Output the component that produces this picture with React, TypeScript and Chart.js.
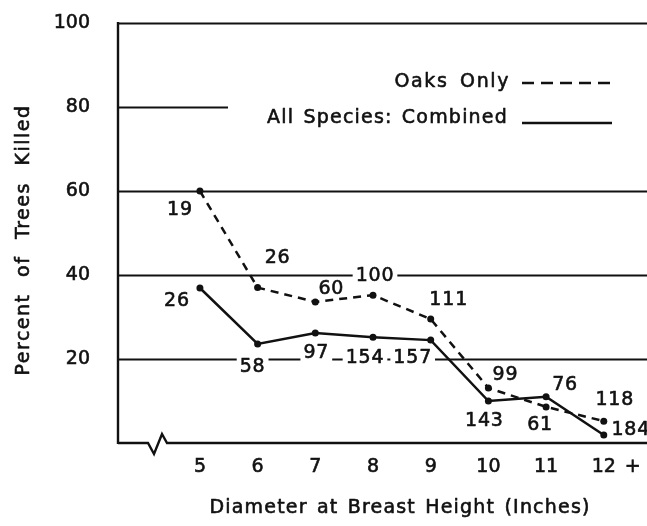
import React, { useEffect, useRef } from "react";
import { Chart, registerables } from "chart.js";

Chart.register(...registerables);

// ---------------- data ----------------
const diameterInches = [5, 6, 7, 8, 9, 10, 11, 12];
const oaksOnlyPercent = [60, 37, 33.6, 35.2, 29.5, 13.1, 8.6, 5.2];
const allSpeciesPercent = [36.9, 23.6, 26.2, 25.2, 24.5, 10, 11, 1.9];
const oaksOnlyCounts = [19, 26, 60, 100, 111, 99, 61, 118];
const allSpeciesCounts = [26, 58, 97, 154, 157, 143, 76, 184];
const yTickValues = [20, 40, 60, 80, 100];
const xTickValues = [5, 6, 7, 8, 9, 10, 11, 12];
const openEndTickValue = 12.5;
const openEndTickLabel = "+";
const seriesLabels = ["Oaks Only", "All Species: Combined"];
const xAxisTitle = "Diameter at Breast Height (Inches)";
const yAxisTitle = "Percent of Trees Killed";

// ---------------- styles ----------------
const INK = "#111111";
const FONT = "'DejaVu Sans', sans-serif";
const TEXT_STROKE = 0.6;
const oaksLabelOffsets = [[-20, 19], [20, -30], [16, -13], [2, -19], [18, -19], [17, -13], [-6, 18], [11, -21]];
const allLabelOffsets = [[-23, 13], [-5, 23], [1, 20], [-8, 21], [-18, 18], [-4, 20], [19, -12], [27, -5]];

function setFont(ctx: CanvasRenderingContext2D, size: number, ls = 0, ws = 0) {
  ctx.font = `${size}px ${FONT}`;
  (ctx as any).letterSpacing = `${ls}px`;
  (ctx as any).wordSpacing = `${ws}px`;
}

function drawText(
  ctx: CanvasRenderingContext2D,
  s: string,
  x: number,
  y: number,
  size: number,
  align: CanvasTextAlign,
  baseline: CanvasTextBaseline,
  ls = 0,
  ws = 0
) {
  ctx.save();
  setFont(ctx, size, ls, ws);
  ctx.fillStyle = INK;
  ctx.strokeStyle = INK;
  ctx.lineWidth = TEXT_STROKE;
  ctx.lineJoin = "round";
  ctx.textAlign = align;
  ctx.textBaseline = baseline;
  ctx.fillText(s, x, y);
  ctx.strokeText(s, x, y);
  ctx.restore();
}

const LABEL_SIZE = 19;
const LABEL_LS = 0.8;

function labelItems(chart: any) {
  const items: { text: string; x: number; y: number }[] = [];
  const sets = [
    { counts: oaksOnlyCounts, offsets: oaksLabelOffsets, meta: chart.getDatasetMeta(0) },
    { counts: allSpeciesCounts, offsets: allLabelOffsets, meta: chart.getDatasetMeta(1) },
  ];
  sets.forEach((s) => {
    s.counts.forEach((c, j) => {
      const pt = s.meta.data[j];
      items.push({ text: String(c), x: pt.x + s.offsets[j][0], y: pt.y + s.offsets[j][1] });
    });
  });
  return items;
}

const decorPlugin = {
  id: "decor",
  beforeDatasetsDraw(chart: any) {
    const { ctx, chartArea } = chart;
    const { left, top } = chartArea;
    const right = chart.width;
    const yScale = chart.scales.y;
    ctx.save();
    ctx.strokeStyle = INK;
    ctx.lineWidth = 2;
    ctx.lineCap = "butt";
    yTickValues.forEach((v) => {
      const py = Math.round(yScale.getPixelForValue(v)) + 0.5;
      ctx.beginPath();
      ctx.moveTo(left, py);
      ctx.lineTo(right, py);
      ctx.stroke();
    });
    // baseline with axis break
    const p0 = Math.round(yScale.getPixelForValue(0));
    ctx.lineWidth = 2.4;
    ctx.beginPath();
    ctx.moveTo(left, p0);
    ctx.lineTo(left + 30, p0);
    ctx.lineTo(left + 36, p0 + 11);
    ctx.lineTo(left + 44, p0 - 9);
    ctx.lineTo(left + 49, p0);
    ctx.lineTo(right, p0);
    ctx.stroke();
    // y axis line
    ctx.beginPath();
    ctx.moveTo(left, top - 1);
    ctx.lineTo(left, p0 + 1);
    ctx.stroke();

    // white boxes behind count labels
    ctx.fillStyle = "#ffffff";
    setFont(ctx, LABEL_SIZE, LABEL_LS);
    labelItems(chart).forEach((it) => {
      const w = ctx.measureText(it.text).width;
      ctx.fillRect(it.x - w / 2 - 3, it.y - 9, w + 6, 18);
    });
    // legend area
    ctx.fillRect(228, 62, chart.width - 228, 72);
    ctx.restore();
  },
  afterDatasetsDraw(chart: any) {
    const { ctx } = chart;
    labelItems(chart).forEach((it) => {
      drawText(ctx, it.text, it.x, it.y, LABEL_SIZE, "center", "middle", LABEL_LS);
    });
    // legend
    const ds = chart.data.datasets;
    drawText(ctx, ds[0].label, 510, 87, 19, "right", "alphabetic", 1.6, 4);
    drawText(ctx, ds[1].label, 508, 123, 19, "right", "alphabetic", 1.2, 2);
    ctx.save();
    ctx.strokeStyle = INK;
    ctx.lineWidth = 2.5;
    ctx.setLineDash([12, 7]);
    ctx.beginPath();
    ctx.moveTo(522, 83);
    ctx.lineTo(614, 83);
    ctx.stroke();
    ctx.setLineDash([]);
    ctx.beginPath();
    ctx.moveTo(522, 123);
    ctx.lineTo(612, 123);
    ctx.stroke();
    ctx.restore();
    // axis titles
    drawText(ctx, xAxisTitle, 400, 508, 19, "center", "middle", 1.2, 2);
    ctx.save();
    ctx.translate(24, 240);
    ctx.rotate(-Math.PI / 2);
    drawText(ctx, yAxisTitle, 0, 0, 19, "center", "middle", 1.5, 9);
    ctx.restore();
  },
};

export default function App() {
  const canvasRef = useRef<HTMLCanvasElement | null>(null);

  useEffect(() => {
    const canvas = canvasRef.current;
    if (!canvas) return;
    const chart = new Chart(canvas, {
      type: "line",
      data: {
        datasets: [
          {
            label: seriesLabels[0],
            data: diameterInches.map((d, i) => ({ x: d, y: oaksOnlyPercent[i] })),
            borderColor: INK,
            backgroundColor: INK,
            borderWidth: 2.5,
            borderDash: [8, 6],
            pointRadius: 3.5,
            pointBorderWidth: 0,
            pointBackgroundColor: INK,
            tension: 0,
            fill: false,
          },
          {
            label: seriesLabels[1],
            data: diameterInches.map((d, i) => ({ x: d, y: allSpeciesPercent[i] })),
            borderColor: INK,
            backgroundColor: INK,
            borderWidth: 2.5,
            pointRadius: 3.5,
            pointBorderWidth: 0,
            pointBackgroundColor: INK,
            tension: 0,
            fill: false,
          },
        ],
      },
      options: {
        animation: false,
        responsive: false,
        devicePixelRatio: 1,
        layout: { padding: { top: 23, left: 0, right: 0, bottom: 0 } },
        plugins: {
          legend: { display: false },
          tooltip: { enabled: false },
          title: { display: false },
        },
        scales: {
          x: {
            type: "linear",
            min: 3.58,
            max: 12.68,
            grid: { display: false, drawTicks: false },
            border: { display: false },
            afterBuildTicks: (scale: any) => {
              scale.ticks = [...xTickValues, openEndTickValue].map((v) => ({ value: v }));
            },
            afterFit: (scale: any) => {
              scale.height = 83;
              scale.paddingLeft = 0;
              scale.paddingRight = 0;
              scale.paddingTop = 0;
              scale.paddingBottom = 0;
            },
            ticks: {
              autoSkip: false,
              maxRotation: 0,
              padding: 13,
              color: INK,
              textStrokeColor: INK,
              textStrokeWidth: TEXT_STROKE,
              font: { family: FONT, size: 19 },
              callback: (v: any) => (v === openEndTickValue ? openEndTickLabel : String(v)),
            },
          },
          y: {
            type: "linear",
            min: 0,
            max: 100,
            grid: { display: false, drawTicks: false },
            border: { display: false },
            afterBuildTicks: (scale: any) => {
              scale.ticks = yTickValues.map((v) => ({ value: v }));
            },
            afterFit: (scale: any) => {
              scale.width = 118;
              scale.paddingLeft = 0;
              scale.paddingRight = 0;
              scale.paddingTop = 0;
              scale.paddingBottom = 0;
            },
            ticks: {
              padding: 28,
              color: INK,
              textStrokeColor: INK,
              textStrokeWidth: TEXT_STROKE,
              font: { family: FONT, size: 19 },
              callback: (v: any) => String(v),
            },
          },
        },
      },
      plugins: [decorPlugin],
    } as any);
    return () => chart.destroy();
  }, []);

  return (
    <div style={{ position: "fixed", left: 0, top: 0, width: 647, height: 526, background: "#fff" }}>
      <canvas ref={canvasRef} width={647} height={526} style={{ display: "block" }} />
    </div>
  );
}
